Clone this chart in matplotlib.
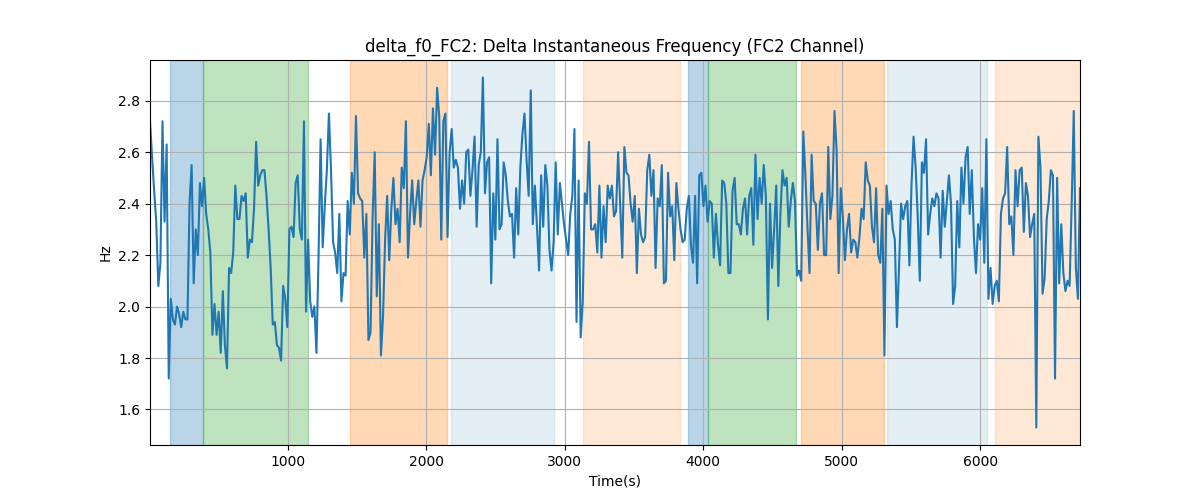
import numpy as np
import matplotlib
matplotlib.use("Agg")
import matplotlib.pyplot as plt

delta_f0 = [
    2.72, 2.58, 2.45, 2.33, 2.08, 2.17, 2.72, 2.33, 2.63, 1.72,
    2.03, 1.95, 1.93, 2.00, 1.97, 1.92, 1.98, 1.95, 1.95, 2.40,
    2.55, 2.09, 2.30, 2.20, 2.48, 2.39, 2.50, 2.36, 2.30, 2.21,
    1.89, 2.01, 1.89, 1.98, 1.82, 2.06, 1.85, 1.76, 2.15, 2.13,
    2.21, 2.47, 2.34, 2.34, 2.43, 2.41, 2.44, 2.19, 2.26, 2.25,
    2.38, 2.64, 2.47, 2.51, 2.53, 2.53,
    # ~1000 s
    2.43, 2.30, 2.15, 1.93, 1.94, 1.85, 1.84, 1.79, 2.08, 2.03,
    1.92, 2.30, 2.31, 2.27, 2.48, 2.51, 2.30, 2.26, 2.72, 1.98,
    2.26, 2.02, 1.96, 2.00, 1.82, 2.19, 2.65, 2.23, 2.39, 2.53,
    2.75, 2.53, 2.25, 2.21, 2.13, 2.36, 2.02, 2.13, 2.12, 2.41,
    2.28, 2.52, 2.40, 2.74, 2.44, 2.42, 2.41, 2.19, 2.36, 1.87,
    1.90, 2.35, 2.60, 2.04, 2.32, 1.81,
    # ~1680 s
    1.96, 2.26, 2.43, 2.18, 2.38, 2.50, 2.32, 2.38, 2.25, 2.54,
    2.46, 2.72, 2.19, 2.36, 2.49, 2.32, 2.41, 2.49, 2.31, 2.49,
    2.53, 2.58, 2.71, 2.51, 2.77, 2.59, 2.85, 2.74, 2.26, 2.72,
    2.75, 2.27, 2.60, 2.69, 2.54, 2.57, 2.54, 2.38, 2.49, 2.40,
    2.60, 2.61, 2.43, 2.53, 2.66, 2.31, 2.55, 2.60, 2.89, 2.44,
    2.56, 2.58, 2.09, 2.44, 2.26, 2.65,
    # ~2520 s
    2.30, 2.32, 2.56, 2.51, 2.41, 2.35, 2.36, 2.19, 2.46, 2.28,
    2.54, 2.67, 2.75, 2.57, 2.43, 2.84, 2.32, 2.47, 2.31, 2.14,
    2.51, 2.31, 2.55, 2.47, 2.22, 2.14, 2.25, 2.56, 2.28, 2.48,
    2.40, 2.32, 2.26, 2.20, 2.36, 2.43, 2.69, 1.94, 2.49, 1.88,
    2.02, 2.44, 2.40, 2.64, 2.30, 2.30, 2.32, 2.21, 2.47, 2.19,
    2.39, 2.25, 2.47, 2.42, 2.47, 2.35,
    # ~3370 s
    2.37, 2.60, 2.39, 2.19, 2.62, 2.52, 2.51, 2.40, 2.33, 2.43,
    2.13, 2.38, 2.28, 2.25, 2.27, 2.53, 2.59, 2.43, 2.53, 2.15,
    2.42, 2.39, 2.55, 2.09, 2.10, 2.52, 2.35, 2.39, 2.18, 2.48,
    2.38, 2.30, 2.25, 2.26, 2.38, 2.43, 2.24, 2.17, 2.43, 2.09,
    2.51, 2.52, 2.39, 2.47, 2.33, 2.41, 2.40, 2.19, 2.36, 2.24,
    2.16, 2.49, 2.48, 2.40, 2.13,
    # ~4190 s
    2.13, 2.45, 2.50, 2.32, 2.32, 2.28, 2.38, 2.42, 2.28, 2.43,
    2.46, 2.24, 2.59, 2.34, 2.50, 2.40, 2.55, 2.43, 1.95, 2.40,
    2.15, 2.30, 2.47, 2.08, 2.36, 2.53, 2.47, 2.50, 2.31, 2.41,
    2.48, 2.41, 2.12, 2.14, 2.10, 2.68, 2.51, 2.31, 2.13, 2.59,
    2.41, 2.40, 2.22, 2.40, 2.44, 2.20, 2.20, 2.62, 2.34, 2.43,
    2.76, 2.61, 2.13, 2.46, 2.35, 2.18,
    # ~5040 s
    2.30, 2.36, 2.21, 2.26, 2.25, 2.19, 2.27, 2.38, 2.34, 2.56,
    2.49, 2.47, 2.31, 2.25, 2.46, 2.20, 2.17, 2.38, 1.81, 2.47,
    2.36, 2.41, 2.30, 2.26, 1.92, 2.15, 2.40, 2.34, 2.39, 2.41,
    2.16, 2.47, 2.66, 2.54, 2.35, 2.10, 2.56, 2.52, 2.65, 2.28,
    2.36, 2.42, 2.39, 2.44, 2.42, 2.19, 2.45, 2.31, 2.41, 2.51,
    2.40, 2.01, 2.08, 2.41, 2.23, 2.54,
    # ~5880 s
    2.40, 2.58, 2.62, 2.36, 2.53, 2.27, 2.13, 2.32, 2.26, 2.46,
    2.17, 2.65, 2.03, 2.15, 2.01, 2.08, 2.10, 2.02, 2.36, 2.42,
    2.44, 2.62, 2.32, 2.35, 2.20, 2.53, 2.39, 2.53, 2.54, 2.29,
    2.48, 2.43, 2.27, 2.32, 2.36, 1.53, 2.66, 2.54, 2.05, 2.11,
    2.34, 2.41, 2.53, 2.51, 1.72, 2.50, 2.09, 2.32, 2.13, 2.06,
    2.10, 2.08, 2.40, 2.76, 2.15, 2.03, 2.46,
]
t_start = 3.0
step = 15.03
time = t_start + np.arange(len(delta_f0)) * step

# shaded segments (start, end) in seconds
seg_start = [147, 386, 1448, 2175, 3131, 3892, 4032, 4706, 5326, 6108]
seg_end = [386, 1142, 2146, 2920, 3832, 4032, 4672, 5307, 6052, 6760]
seg_color = ['tab:blue', 'tab:green', 'tab:orange', 'tab:blue', 'tab:orange',
             'tab:blue', 'tab:green', 'tab:orange', 'tab:blue', 'tab:orange']
seg_alpha = [0.3, 0.3, 0.3, 0.12, 0.17, 0.3, 0.3, 0.3, 0.12, 0.17]

fig, ax = plt.subplots(figsize=(12, 5), dpi=100)
for s, e, c, a in zip(seg_start, seg_end, seg_color, seg_alpha):
    ax.axvspan(s, e, color=c, alpha=a)

ax.plot(time, delta_f0, color='tab:blue')
ax.set_xlim(time[0], time[-1])
ax.set_title('delta_f0_FC2: Delta Instantaneous Frequency (FC2 Channel)')
ax.set_xlabel('Time(s)')
ax.set_ylabel('Hz')
ax.grid(True)

fig.savefig('out.png')
